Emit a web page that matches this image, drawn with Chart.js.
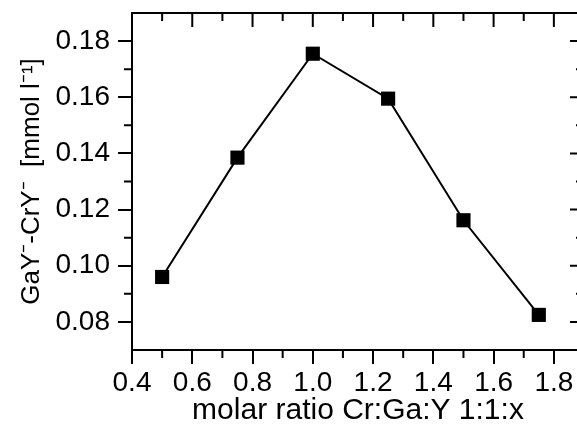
<!DOCTYPE html>
<html>
<head>
<meta charset="utf-8">
<script src="https://cdn.jsdelivr.net/npm/chart.js@4"></script>
<style>
  html, body { margin: 0; padding: 0; background: #fff; overflow: hidden; }
</style>
</head>
<body>
<canvas id="chart" width="600" height="433"></canvas>
<script>
// data
const ratios = [0.5, 0.75, 1.0, 1.25, 1.5, 1.75];
const concentrations = [0.096, 0.1385, 0.1755, 0.1595, 0.1162, 0.0825];

// axes
const xTicks = [0.4, 0.6, 0.8, 1.0, 1.2, 1.4, 1.6, 1.8];
const xMinor = [0.5, 0.7, 0.9, 1.1, 1.3, 1.5, 1.7];
const yTicks = [0.08, 0.10, 0.12, 0.14, 0.16, 0.18];
const yMinor = [0.09, 0.11, 0.13, 0.15, 0.17];

const family = "'Liberation Sans', Arial, sans-serif";

// top/right frame, minor ticks and mirrored ticks
const frame = {
    id: 'frame',
    afterDraw(chart) {
        const { ctx, chartArea: a, scales: { x, y } } = chart;
        ctx.save();
        ctx.strokeStyle = '#000';
        ctx.lineWidth = 2;
        ctx.beginPath();
        ctx.moveTo(a.left, a.top);
        ctx.lineTo(a.right, a.top);
        ctx.lineTo(a.right, a.bottom);
        xMinor.forEach(v => {
            const px = x.getPixelForValue(v);
            ctx.moveTo(px, a.bottom); ctx.lineTo(px, a.bottom + 8);
            ctx.moveTo(px, a.top); ctx.lineTo(px, a.top + 8);
        });
        xTicks.forEach(v => {
            const px = x.getPixelForValue(v);
            ctx.moveTo(px, a.top); ctx.lineTo(px, a.top + 14);
        });
        yMinor.forEach(v => {
            const py = y.getPixelForValue(v);
            ctx.moveTo(a.left, py); ctx.lineTo(a.left - 8, py);
            ctx.moveTo(a.right, py); ctx.lineTo(a.right - 8, py);
        });
        yTicks.forEach(v => {
            const py = y.getPixelForValue(v);
            ctx.moveTo(a.right, py); ctx.lineTo(a.right - 14, py);
        });
        ctx.stroke();
        ctx.restore();
    }
};

new Chart(document.getElementById("chart"), {
    type: 'line',
    data: {
        datasets: [{
            label: "GaY-CrY",
            data: ratios.map((r, i) => ({ x: r, y: concentrations[i] })),
            borderColor: "#000",
            backgroundColor: "#000",
            borderWidth: 2,
            pointStyle: 'rect',
            pointRadius: 10,
            pointHoverRadius: 10,
            pointBorderWidth: 0,
            tension: 0
        }]
    },
    options: {
        responsive: false,
        animation: false,
        layout: { padding: { top: 13, right: 16, left: 0, bottom: 0 } },
        plugins: {
            legend: { display: false },
            tooltip: { enabled: false }
        },
        scales: {
            x: {
                type: 'linear',
                min: 0.4,
                max: 1.9,
                afterBuildTicks: s => { s.ticks = xTicks.map(v => ({ value: v })); },
                afterFit: s => { s.height = 83; s.paddingLeft = 0; s.paddingRight = 0; },
                grid: { drawOnChartArea: false, tickLength: 14, lineWidth: 2, color: '#000' },
                border: { display: true, width: 2, color: '#000' },
                ticks: {
                    color: '#000', font: { family: family, size: 28 }, padding: 2, maxRotation: 0,
                    callback: v => v.toFixed(1)
                },
                title: {
                    display: true, text: "molar ratio Cr:Ga:Y 1:1:x",
                    color: '#000', font: { family: family, size: 30 }, padding: { top: 0, bottom: 4 }
                }
            },
            y: {
                min: 0.07,
                max: 0.19,
                afterBuildTicks: s => { s.ticks = yTicks.map(v => ({ value: v })); },
                afterFit: s => { s.width = 132; s.paddingTop = 0; s.paddingBottom = 0; },
                grid: { drawOnChartArea: false, tickLength: 14, lineWidth: 2, color: '#000' },
                border: { display: true, width: 2, color: '#000' },
                ticks: {
                    color: '#000', font: { family: family, size: 28 }, padding: 8,
                    callback: v => v.toFixed(2)
                },
                title: {
                    display: true, text: "GaY\u207B-CrY\u207B  [mmol l\u207B\u00B9]",
                    color: '#000', font: { family: family, size: 26 }, padding: { top: 16, bottom: 0 }
                }
            }
        }
    },
    plugins: [frame]
});
</script>
</body>
</html>
